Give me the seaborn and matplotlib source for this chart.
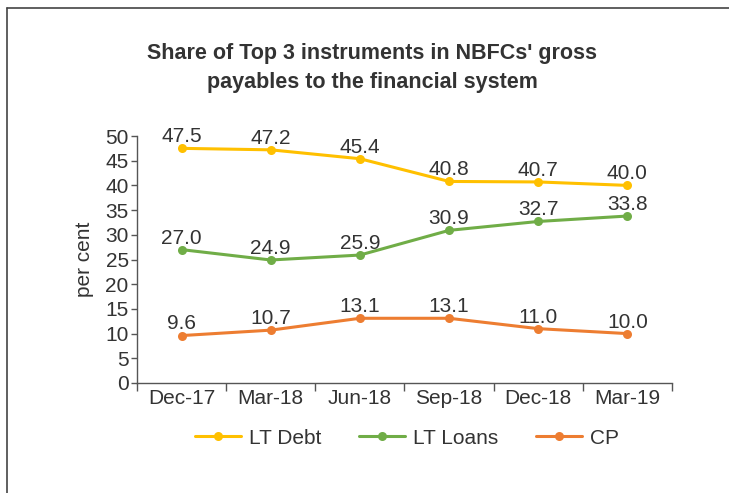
import pandas as pd
import seaborn as sns
import matplotlib.pyplot as plt
from matplotlib.lines import Line2D

# data
quarters = ['Dec-17', 'Mar-18', 'Jun-18', 'Sep-18', 'Dec-18', 'Mar-19']
lt_debt = [47.5, 47.2, 45.4, 40.8, 40.7, 40.0]
lt_loans = [27.0, 24.9, 25.9, 30.9, 32.7, 33.8]
cp = [9.6, 10.7, 13.1, 13.1, 11.0, 10.0]

series = {'LT Debt': lt_debt, 'LT Loans': lt_loans, 'CP': cp}
colors = {'LT Debt': '#FFC000', 'LT Loans': '#70AD47', 'CP': '#ED7D31'}

rows = []
for name, vals in series.items():
    for i, (q, v) in enumerate(zip(quarters, vals)):
        rows.append({'pos': i, 'quarter': q, 'series': name, 'value': v})
df = pd.DataFrame(rows)

sns.set_style("white")
plt.rcParams['font.family'] = ['Liberation Sans', 'DejaVu Sans']
txt = '#333333'
fs = 15

fig = plt.figure(figsize=(7.29, 4.93), dpi=100)
ax = fig.add_axes([137/729, 1-383/493, 535/729, 247/493])

sns.lineplot(data=df, x='pos', y='value', hue='series', palette=colors,
             marker='o', markersize=6.5, markeredgewidth=0, linewidth=2.2,
             ax=ax, legend=False, clip_on=False)

for name, vals in series.items():
    for i, v in enumerate(vals):
        ax.annotate(f"{v:.1f}", (i, v), xytext=(0, 1.5), textcoords='offset points',
                    ha='center', va='bottom', fontsize=fs, color=txt,
                    annotation_clip=False)

ax.set_xlim(-0.5, 5.5)
ax.set_ylim(0, 50)
ax.set_yticks(range(0, 51, 5))
ax.set_xticks(range(len(quarters)))
ax.set_xticklabels(quarters)
ax.set_xticks([k - 0.5 for k in range(len(quarters) + 1)], minor=True)
ax.tick_params(axis='x', which='major', length=0, labelsize=fs, labelcolor=txt, pad=4)
ax.tick_params(axis='x', which='minor', length=6, width=1, color='#555555', direction='out')
ax.tick_params(axis='y', length=4.5, width=1, color='#555555', direction='out',
               labelsize=fs, labelcolor=txt, pad=1.5)
ax.tick_params(axis='both', bottom=True, left=True, which='both')

for s in ['top', 'right']:
    ax.spines[s].set_visible(False)
for s in ['left', 'bottom']:
    ax.spines[s].set_color('#555555')
    ax.spines[s].set_linewidth(1)

ax.set_xlabel('')
ax.set_ylabel('per cent', fontsize=fs, color=txt, labelpad=8)

fig.text(372/729, 1-68/493, "Share of Top 3 instruments in NBFCs' gross\npayables to the financial system",
         ha='center', va='center', fontsize=15.5, fontweight='bold', color=txt, linespacing=1.5)

handles = [Line2D([0], [0], color=colors[n], marker='o', markersize=6.5, linewidth=2.2,
                  markeredgewidth=0) for n in series]
fig.legend(handles, list(series.keys()), loc='center', bbox_to_anchor=(407/729, 1-438/493),
           ncol=3, frameon=False, fontsize=fs, labelcolor=txt, handlelength=2.2,
           columnspacing=1.8, handletextpad=0.4)

# outer frame (left and top edges)
fig.add_artist(Line2D([7/729, 7/729], [0, 1-8/493], color='#444444', linewidth=1.2))
fig.add_artist(Line2D([7/729, 1], [1-8/493, 1-8/493], color='#444444', linewidth=1.2))

plt.savefig("out.png", dpi=100)
plt.close()
